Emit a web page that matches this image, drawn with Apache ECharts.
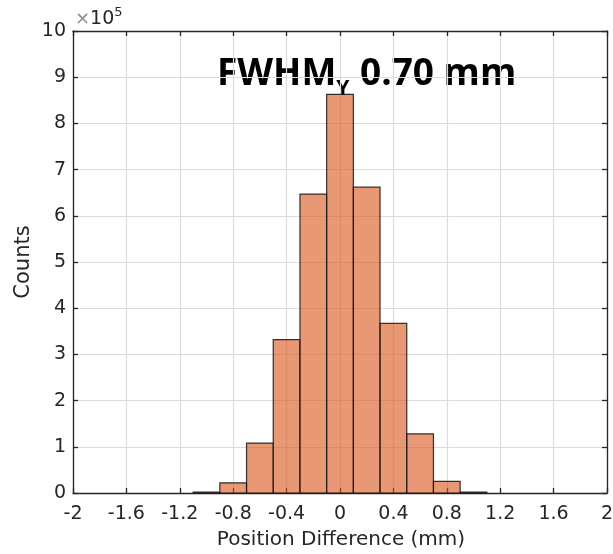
<!DOCTYPE html>
<html><head><meta charset="utf-8">
<script src="https://cdn.jsdelivr.net/npm/echarts@6/dist/echarts.min.js"></script>
<style>html,body{margin:0;padding:0;background:#fff}#c{width:613px;height:554px}</style>
</head><body><div id="c"></div>
<script>
var binStarts = [-1.1, -0.9, -0.7, -0.5, -0.3, -0.1, 0.1, 0.3, 0.5, 0.7, 0.9];
var binWidth = 0.2;
var counts = [2000, 22000, 108000, 332000, 647000, 863000, 662000, 367000, 128000, 25000, 2000];
var xTicks = [-2, -1.6, -1.2, -0.8, -0.4, 0, 0.4, 0.8, 1.2, 1.6, 2];
var yTicks = [0,1,2,3,4,5,6,7,8,9,10];
var yScale = 1e5;
var xName = 'Position Difference (mm)';
var yName = 'Counts';

var data = binStarts.map(function(s,i){return [s, s+binWidth, counts[i]];});
var chart = echarts.init(document.getElementById('c'));
var axisCol = '#262626';
var font = 'DejaVu Sans';
function xAx(pos, show){
  return {type:'value', position:pos, min:-2, max:2, interval:0.4,
    axisLine:{show:true, onZero:false, lineStyle:{color:axisCol,width:1.3}},
    axisTick:{show:true, inside:true, length:5, lineStyle:{color:axisCol,width:1.3}},
    axisLabel:{show:show, color:axisCol, fontFamily:font, fontSize:19, margin:12,
      formatter:function(v){var r=Math.round(v*10)/10; return String(r);}},
    splitLine:{show:show, lineStyle:{color:'#dcdcdc', width:1.2}}};
}
function yAx(pos, show){
  return {type:'value', position:pos, min:0, max:10*yScale, interval:yScale,
    axisLine:{show:true, onZero:false, lineStyle:{color:axisCol,width:1.3}},
    axisTick:{show:true, inside:true, length:5, lineStyle:{color:axisCol,width:1.3}},
    axisLabel:{show:show, color:axisCol, fontFamily:font, fontSize:19, margin:7,
      formatter:function(v){return String(Math.round(v/yScale));}},
    splitLine:{show:show, lineStyle:{color:'#dcdcdc', width:1.2}}};
}
chart.setOption({
  animation:false,
  grid:{left:73, right:6, top:31, bottom:61, containLabel:false, outerBoundsMode:'none'},
  xAxis:[xAx('bottom',true), xAx('top',false)],
  yAxis:[yAx('left',true), yAx('right',false)],
  series:[{
    type:'custom', xAxisIndex:0, yAxisIndex:0,
    data:data,
    encode:{x:[0,1], y:2},
    renderItem:function(params, api){
      var p0 = api.coord([api.value(0), api.value(2)]);
      var p1 = api.coord([api.value(1), 0]);
      return {type:'rect', shape:{x:p0[0], y:p0[1], width:p1[0]-p0[0], height:p1[1]-p0[1]},
        style:{fill:'rgba(217,83,25,0.6)', stroke:'rgba(20,20,20,0.85)', lineWidth:1.2}};
    }
  }],
  graphic:[
    {type:'text', x:341, y:540, style:{text:xName, align:'center', verticalAlign:'middle',
      fill:axisCol, fontFamily:font, fontSize:20}},
    {type:'text', x:24, y:262, rotation:Math.PI/2, style:{text:yName, align:'center', verticalAlign:'middle',
      fill:axisCol, fontFamily:font, fontSize:21}},
    {type:'text', left:75, top:6, style:{
      rich:{x:{fill:'#8c8c8c', fontSize:18, fontFamily:font, padding:[6,0,0,0]}, b:{fill:axisCol,fontSize:19,fontFamily:font, padding:[6,0,0,0]}, s:{fill:axisCol,fontSize:13,fontFamily:font, padding:[0,0,8,0]}},
      text:'{x|×}{b|10}{s|5}'}},
    {type:'text', left:217, top:56, style:{
      rich:{a:{fill:'#000', fontSize:37, fontWeight:'bold', fontFamily:'Open Sans'},
            s:{fill:'#000', fontSize:21, fontWeight:'bold', fontFamily:'Open Sans', padding:[30,1,0,0]}},
      text:'{a|FWHM}{s|Y}{a| 0.70 mm}'}}
  ]
});
</script></body></html>
